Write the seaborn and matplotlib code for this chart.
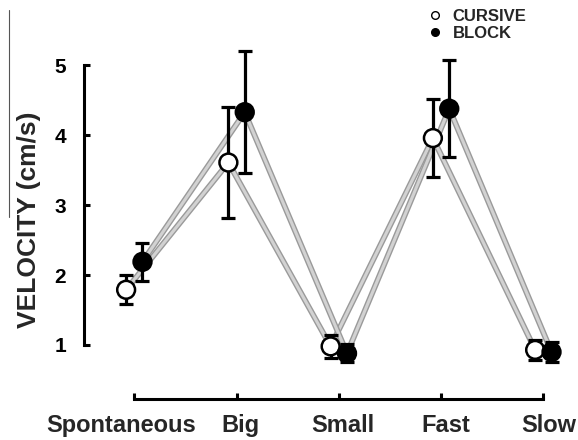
import numpy as np
import pandas as pd
import matplotlib
matplotlib.use("Agg")
import matplotlib.pyplot as plt
import matplotlib.patheffects as pe
import matplotlib.transforms as mtransforms
from matplotlib.lines import Line2D
import seaborn as sns

# Mean handwriting velocity per condition, with error bar half-widths
conditions = ["Spontaneous", "Big", "Small", "Fast", "Slow"]
cursive_mean = [1.79, 3.61, 0.98, 3.96, 0.93]
cursive_err = [0.21, 0.79, 0.16, 0.56, 0.14]
block_mean = [2.19, 4.33, 0.88, 4.38, 0.90]
block_err = [0.27, 0.87, 0.13, 0.69, 0.15]
groups = ["CURSIVE", "BLOCK"]
y_ticks = [1, 2, 3, 4, 5]

sns.set_theme(style="ticks")
plt.rcParams["font.family"] = ["Liberation Sans", "DejaVu Sans"]
plt.rcParams["font.weight"] = "bold"

W, H, DPI = 578, 440, 100
fig = plt.figure(figsize=(W / DPI, H / DPI), dpi=DPI)
ax = fig.add_axes([84 / W, 41 / H, 494 / W, 369 / H])

idx = np.arange(len(conditions))
dodge = 0.08
df = pd.DataFrame({
    "pos": np.concatenate([idx - dodge, idx + dodge]),
    "vel": cursive_mean + block_mean,
    "err": cursive_err + block_err,
    "group": [groups[0]] * len(conditions) + [groups[1]] * len(conditions),
})

# Gray connecting lines with a darker rim
line_fx = [pe.Stroke(linewidth=4.2, foreground="#9a9a9a"), pe.Normal()]
for g in groups:
    sub = df[df["group"] == g]
    ax.plot(sub["pos"], sub["vel"], color="#d2d2d2", lw=2.2, zorder=1,
            path_effects=line_fx, solid_capstyle="butt")

# Error bars
ax.errorbar(df["pos"], df["vel"], yerr=df["err"], fmt="none", ecolor="black",
            elinewidth=2.3, capsize=5, capthick=2.3, zorder=2)

# Markers
sns.scatterplot(data=df, x="pos", y="vel", hue="group",
                palette={"CURSIVE": "white", "BLOCK": "black"},
                edgecolor="black", linewidth=1.8, s=165, legend=False,
                zorder=3, ax=ax)

ax.set_xlim(-0.492, 4.339)
ax.set_ylim(0.2275, 5.506)
ax.set_xticks(idx)
ax.set_xticklabels([])
ax.set_yticks(y_ticks)
ax.set_yticklabels([str(t) for t in y_ticks], fontsize=15, fontweight="bold")
ax.set_xlabel("")
ax.set_ylabel("")

# Category labels under the ticks, each nudged sideways a little
shifts_px = [-13, 4, 4, 5, 5]
base = mtransforms.blended_transform_factory(ax.transData, ax.transAxes)
for i, (name, dx) in enumerate(zip(conditions, shifts_px)):
    off = mtransforms.ScaledTranslation(dx / DPI, -33 / DPI, fig.dpi_scale_trans)
    ax.text(i, 0, name, transform=base + off, ha="center", va="baseline",
            fontsize=17, fontweight="bold", clip_on=False)

for s in ["top", "right"]:
    ax.spines[s].set_visible(False)
for s in ["left", "bottom"]:
    ax.spines[s].set_linewidth(2.2)
    ax.spines[s].set_color("black")
ax.spines["left"].set_bounds(1, 5)
ax.spines["bottom"].set_bounds(0, 4)
ax.tick_params(axis="y", direction="in", length=4, width=2.2, pad=13, colors="black")
ax.tick_params(axis="x", direction="in", length=4.5, width=2.2, colors="black")
ax.patch.set_visible(False)

fig.text(29 / W, 1 - 220 / H, "VELOCITY (cm/s)", rotation=90, ha="center",
         va="center", fontsize=19, fontweight="bold")
fig.add_artist(Line2D([9 / W, 9 / W], [1 - 10 / H, 1 - 217 / H],
                      color="#555555", lw=0.8))

handles = [
    Line2D([], [], marker="o", ls="none", markersize=5.5, markerfacecolor="white",
           markeredgecolor="black", markeredgewidth=1.0),
    Line2D([], [], marker="o", ls="none", markersize=5.5, markerfacecolor="black",
           markeredgecolor="black"),
]
fig.legend(handles, groups, loc="upper left", bbox_to_anchor=(427 / W, 1 - 9 / H),
           frameon=False, handlelength=1.0, handletextpad=0.55, labelspacing=0.12,
           borderaxespad=0, borderpad=0, prop={"size": 12, "weight": "bold"})

fig.savefig("out.png", dpi=DPI)
